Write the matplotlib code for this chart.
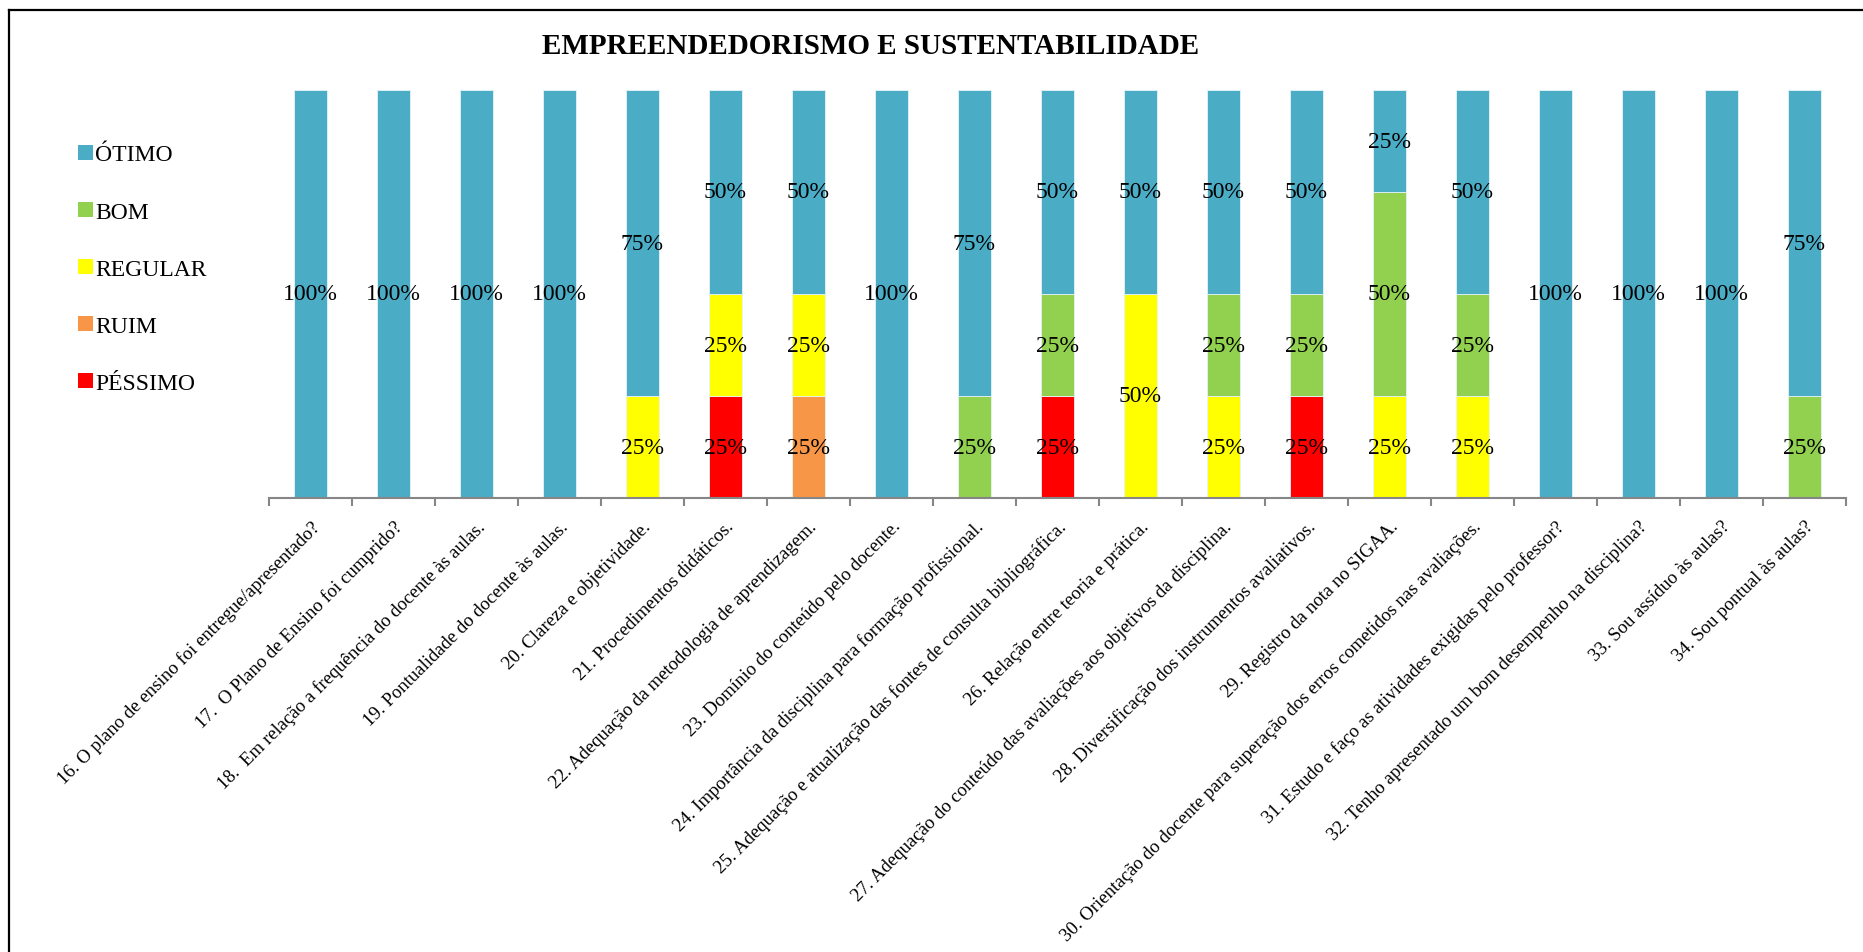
import numpy as np
import matplotlib
matplotlib.use('Agg')
from matplotlib import pyplot as plt
from matplotlib.patches import Patch
from matplotlib.lines import Line2D

plt.rcParams['font.family'] = ['Liberation Serif', 'DejaVu Serif']

title = 'EMPREENDEDORISMO E SUSTENTABILIDADE'

categories = [
    '16. O plano de ensino foi entregue/apresentado?',
    '17.  O Plano de Ensino foi cumprido?',
    '18.  Em relação a frequência do docente às aulas.',
    '19. Pontualidade do docente às aulas.',
    '20. Clareza e objetividade.',
    '21. Procedimentos didáticos.',
    '22. Adequação da metodologia de aprendizagem.',
    '23. Domínio do conteúdo pelo docente.',
    '24. Importância da disciplina para formação profissional.',
    '25. Adequação e atualização das fontes de consulta bibliográfica.',
    '26. Relação entre teoria e prática.',
    '27. Adequação do conteúdo das avaliações aos objetivos da disciplina.',
    '28. Diversificação dos instrumentos avaliativos.',
    '29. Registro da nota no SIGAA.',
    '30. Orientação do docente para superação dos erros cometidos nas avaliações.',
    '31. Estudo e faço as atividades exigidas pelo professor?',
    '32. Tenho apresentado um bom desempenho na disciplina?',
    '33. Sou assíduo às aulas?',
    '34. Sou pontual às aulas?',
]

# percentages per category (stacked bottom -> top: PÉSSIMO, RUIM, REGULAR, BOM, ÓTIMO)
pessimo = [0, 0, 0, 0, 0, 25, 0, 0, 0, 25, 0, 0, 25, 0, 0, 0, 0, 0, 0]
ruim    = [0, 0, 0, 0, 0, 0, 25, 0, 0, 0, 0, 0, 0, 0, 0, 0, 0, 0, 0]
regular = [0, 0, 0, 0, 25, 25, 25, 0, 0, 0, 50, 25, 0, 25, 25, 0, 0, 0, 0]
bom     = [0, 0, 0, 0, 0, 0, 0, 0, 25, 25, 0, 25, 25, 50, 25, 0, 0, 0, 25]
otimo   = [100, 100, 100, 100, 75, 50, 50, 100, 75, 50, 50, 50, 50, 25, 50, 100, 100, 100, 75]

series_names = ['PÉSSIMO', 'RUIM', 'REGULAR', 'BOM', 'ÓTIMO']
series_values = [pessimo, ruim, regular, bom, otimo]
colors = ['#FF0000', '#F79646', '#FFFF00', '#92D050', '#4BACC6']

W, H = 1863, 953
dpi = 100
fig = plt.figure(figsize=(W / dpi, H / dpi), dpi=dpi)

# axes placed in pixel terms
left, right, top, bottom = 269, 1846, 91, 499
ax = fig.add_axes([left / W, 1 - bottom / H, (right - left) / W, (bottom - top) / H])

x = np.arange(len(categories))
base = np.zeros(len(categories))
for name, vals, col in zip(series_names, series_values, colors):
    vals = np.array(vals, dtype=float)
    bars = ax.bar(x, vals, width=0.39, bottom=base, color=col,
                  edgecolor='#e6f4f7', linewidth=0.6, label=name)
    labels = [f'{int(v)}%' if v > 0 else '' for v in vals]
    ax.bar_label(bars, labels=labels, label_type='center', fontsize=17, color='black')
    base += vals

ax.set_xlim(-0.5, len(categories) - 0.5)
ax.set_ylim(0, 100)
ax.set_yticks([])
for s in ['left', 'right', 'top']:
    ax.spines[s].set_visible(False)
ax.spines['bottom'].set_color('#868686')
ax.spines['bottom'].set_linewidth(1.5)

ax.set_xticks(x)
ax.set_xticklabels(categories, rotation=45, ha='right', va='top',
                   rotation_mode='anchor', fontsize=13.5)
ax.tick_params(axis='x', which='major', length=0, pad=14)
ax.set_xticks(np.arange(-0.5, len(categories), 1.0), minor=True)
ax.tick_params(axis='x', which='minor', length=6, width=1.5, color='#868686')

fig.text(871 / W, 1 - 47 / H, title, ha='center', va='center',
         fontsize=21, fontweight='bold')

handles = [Patch(facecolor=c, edgecolor='none') for c in colors][::-1]
fig.legend(handles, series_names[::-1], loc='upper left',
           bbox_to_anchor=(69 / W, 1 - 136 / H), frameon=False,
           fontsize=17, handlelength=0.6, handleheight=0.6,
           handletextpad=0.1, labelspacing=1.53, borderaxespad=0)

# outer chart border (cut off at the right and bottom)
fig.add_artist(Line2D([9 / W, 1.0], [1 - 11 / H, 1 - 11 / H], color='black', lw=1.6))
fig.add_artist(Line2D([9 / W, 9 / W], [0.0, 1 - 11 / H], color='black', lw=1.6))

fig.savefig('out.png', dpi=dpi, facecolor='white')
plt.close(fig)
